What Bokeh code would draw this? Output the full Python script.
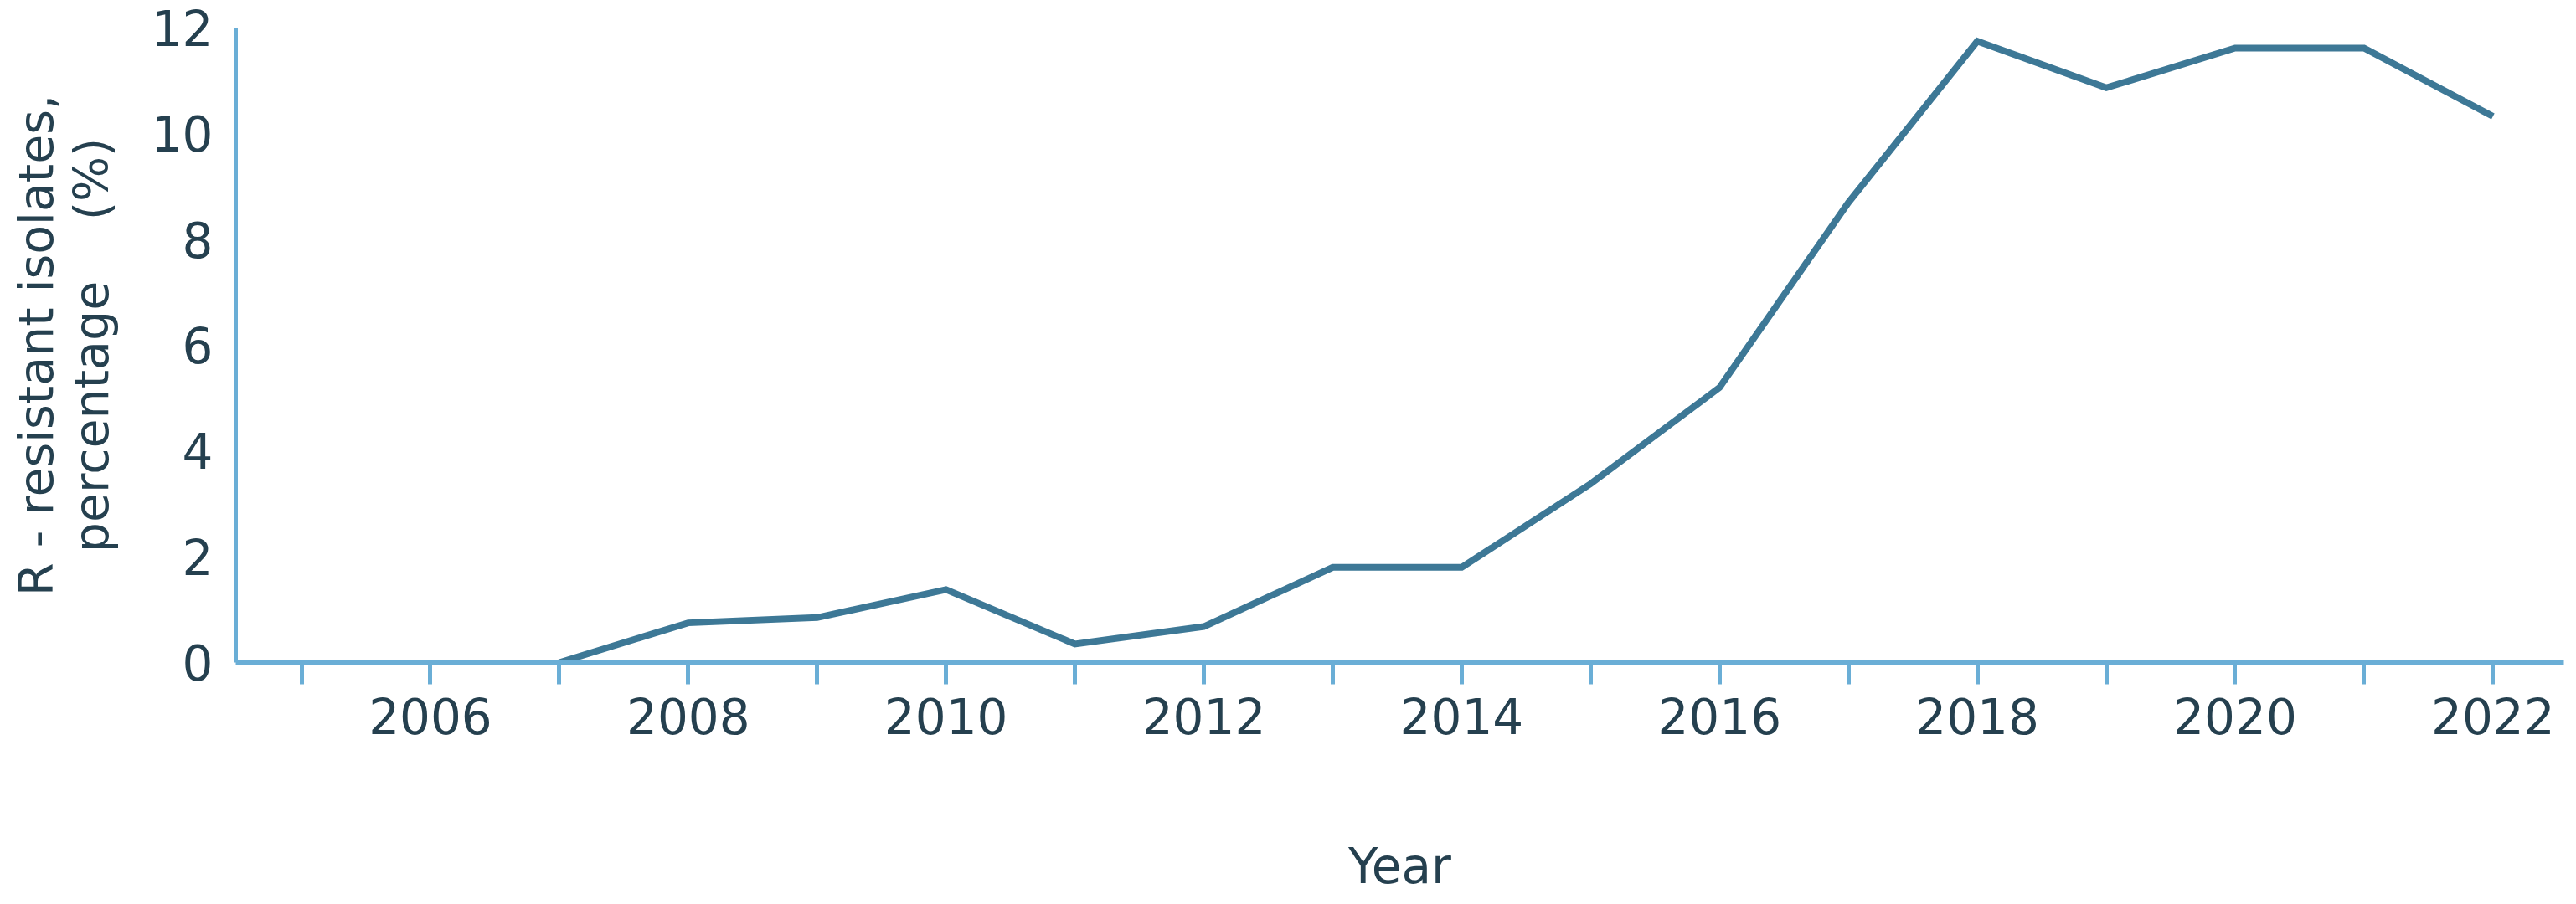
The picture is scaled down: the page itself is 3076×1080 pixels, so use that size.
from bokeh.plotting import figure
from bokeh.models import FixedTicker, Range1d
from bokeh.embed import file_html
from bokeh.resources import INLINE

years = [2007, 2008, 2009, 2010, 2011, 2012, 2013, 2014, 2015, 2016, 2017, 2018, 2019, 2020, 2021, 2022]
resistant_pct = [0.0, 0.75, 0.85, 1.38, 0.35, 0.68, 1.8, 1.8, 3.38, 5.2, 8.7, 11.75, 10.87, 11.62, 11.62, 10.33]
x_ticks = list(range(2005, 2023))
y_ticks = [0, 2, 4, 6, 8, 10, 12]
x_title = "Year"
y_title = "R - resistant isolates,\npercentage\u00a0\u00a0\u00a0\u00a0(%)"

TEXT = "#25404f"
AXIS = "#6aaed6"
LINE = "#3d7896"
FONT = "DejaVu Sans"

p = figure(width=3068, height=1072, output_backend="svg", toolbar_location=None,
           x_range=Range1d(2004.49, 2022.55), y_range=Range1d(0, 12),
           min_border_left=281, min_border_right=7, min_border_top=33, min_border_bottom=281)
p.outline_line_color = None
p.grid.grid_line_color = None
p.background_fill_color = "white"

p.line(years, resistant_pct, line_color=LINE, line_width=8, line_join="miter")

xa = p.xaxis[0]
xa.ticker = FixedTicker(ticks=x_ticks)
xa.major_label_overrides = {y: (str(y) if y % 2 == 0 else "") for y in x_ticks}
xa.minor_tick_line_color = None
xa.axis_line_color = AXIS
xa.axis_line_width = 5
xa.major_tick_line_color = AXIS
xa.major_tick_line_width = 5
xa.major_tick_out = 26
xa.major_tick_in = 0
xa.major_label_standoff = 16
xa.major_label_text_font = FONT
xa.major_label_text_font_size = "58px"
xa.major_label_text_color = TEXT
xa.axis_label = x_title
xa.axis_label_text_font = FONT
xa.axis_label_text_font_size = "58px"
xa.axis_label_text_font_style = "normal"
xa.axis_label_text_color = TEXT
xa.axis_label_standoff = 121

ya = p.yaxis[0]
ya.ticker = FixedTicker(ticks=y_ticks)
ya.minor_tick_line_color = None
ya.major_tick_line_color = None
ya.major_tick_out = 0
ya.major_tick_in = 0
ya.axis_line_color = AXIS
ya.axis_line_width = 5
ya.major_label_standoff = 27
ya.major_label_text_font = FONT
ya.major_label_text_font_size = "58px"
ya.major_label_text_color = TEXT
ya.axis_label = y_title
ya.axis_label_text_font = FONT
ya.axis_label_text_font_size = "57px"
ya.axis_label_text_font_style = "normal"
ya.axis_label_text_color = TEXT
ya.axis_label_text_line_height = 1.0
ya.axis_label_standoff = 36

open("out.html", "w").write(file_html(p, INLINE))
